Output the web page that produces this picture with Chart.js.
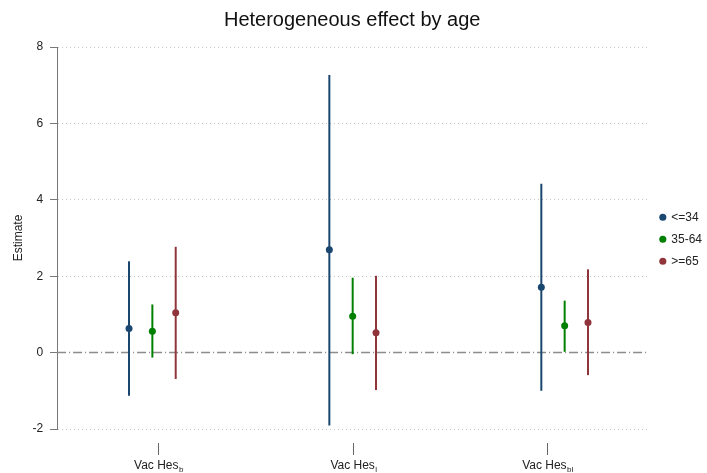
<!DOCTYPE html>
<html>
<head>
<meta charset="utf-8">
<script src="https://cdn.jsdelivr.net/npm/chart.js@4"></script>
<style>
  html, body { margin: 0; padding: 0; background: #fff; }
</style>
</head>
<body>
<canvas id="chart" width="707" height="473"></canvas>
<script>
// Estimates with confidence intervals, one series per age group
const groupLabel = 'Vac Hes';
const groupSubs = ['b', 'l', 'bl'];
const groupTicks = [1, 2, 3];

const seriesNames = ['<=34', '35-64', '>=65'];

const youngX = [0.85, 1.88, 2.97];
const youngEst = [0.63, 2.69, 1.71];
const youngLo = [-1.13, -1.91, -1.00];
const youngHi = [2.39, 7.27, 4.42];

const middleX = [0.97, 2.00, 3.09];
const middleEst = [0.56, 0.95, 0.70];
const middleLo = [-0.13, -0.04, 0.02];
const middleHi = [1.26, 1.96, 1.36];

const olderX = [1.09, 2.12, 3.21];
const olderEst = [1.04, 0.52, 0.79];
const olderLo = [-0.69, -0.98, -0.59];
const olderHi = [2.77, 2.01, 2.18];

const FONT = "'Liberation Sans', Arial, sans-serif";
const INK = '#222';

function makeSeries(label, xs, est, lo, hi, color) {
  return {
    label: label,
    data: xs.map((x, i) => ({ x: x, y: est[i] })),
    lo: lo,
    hi: hi,
    backgroundColor: color,
    borderColor: color,
    pointStyle: 'circle',
    pointRadius: 3.5,
    pointHoverRadius: 3.5,
    pointBorderWidth: 0,
    showLine: false
  };
}

// Title centred over the plot region, legend nudged toward the edge
const placeBlocks = {
  id: 'placeBlocks',
  afterLayout(chart) {
    const t = chart.titleBlock;
    if (t) {
      t.left = chart.chartArea.left;
      t.right = chart.chartArea.right;
    }
    const lg = chart.legend;
    if (lg) {
      lg.left += 3;
      lg.right += 3;
    }
  }
};

// Zero reference line and the vertical interval lines
const errorBars = {
  id: 'errorBars',
  beforeDatasetsDraw(chart) {
    const { ctx, chartArea, scales: { x, y } } = chart;
    ctx.save();
    const y0 = y.getPixelForValue(0);
    ctx.strokeStyle = '#8c8c8c';
    ctx.lineWidth = 1.5;
    ctx.setLineDash([9, 3, 1, 3]);
    ctx.beginPath();
    ctx.moveTo(chartArea.left, y0);
    ctx.lineTo(chartArea.right, y0);
    ctx.stroke();
    ctx.setLineDash([]);

    chart.data.datasets.forEach(ds => {
      ctx.strokeStyle = ds.borderColor;
      ctx.lineWidth = 2;
      ds.data.forEach((p, i) => {
        const px = x.getPixelForValue(p.x);
        ctx.beginPath();
        ctx.moveTo(px, y.getPixelForValue(ds.lo[i]));
        ctx.lineTo(px, y.getPixelForValue(ds.hi[i]));
        ctx.stroke();
      });
    });
    ctx.restore();
  }
};

// Category ticks below the plot, labels with subscripts
const groupAxis = {
  id: 'groupAxis',
  afterDraw(chart) {
    const { ctx, chartArea, scales: { x } } = chart;
    ctx.save();
    ctx.strokeStyle = '#666';
    ctx.lineWidth = 1;
    ctx.fillStyle = INK;
    ctx.textAlign = 'left';
    ctx.textBaseline = 'alphabetic';
    groupTicks.forEach((v, i) => {
      const px = Math.round(x.getPixelForValue(v)) + 0.5;
      ctx.beginPath();
      ctx.moveTo(px, chartArea.bottom + 14);
      ctx.lineTo(px, chartArea.bottom + 26);
      ctx.stroke();

      ctx.font = '12px ' + FONT;
      const w = ctx.measureText(groupLabel).width;
      ctx.font = '8px ' + FONT;
      const ws = ctx.measureText(groupSubs[i]).width;
      const left = px - (w + ws) / 2;
      const base = chartArea.bottom + 40;
      ctx.font = '12px ' + FONT;
      ctx.fillText(groupLabel, left, base);
      ctx.font = '8px ' + FONT;
      ctx.fillText(groupSubs[i], left + w + 0.5, base + 3);
    });
    ctx.restore();
  }
};

new Chart(document.getElementById('chart'), {
  type: 'scatter',
  data: {
    datasets: [
      makeSeries(seriesNames[0], youngX, youngEst, youngLo, youngHi, '#1a476f'),
      makeSeries(seriesNames[1], middleX, middleEst, middleLo, middleHi, '#008000'),
      makeSeries(seriesNames[2], olderX, olderEst, olderLo, olderHi, '#90353b')
    ]
  },
  options: {
    responsive: false,
    animation: false,
    events: [],
    layout: { padding: { left: 11, right: -2, top: 0, bottom: 44 } },
    scales: {
      x: {
        type: 'linear',
        display: false,
        min: 0.48,
        max: 3.515
      },
      y: {
        min: -2,
        max: 8,
        ticks: {
          stepSize: 2,
          color: INK,
          font: { family: FONT, size: 12 },
          padding: 7
        },
        grid: {
          color: c => (c.tick && c.tick.value === 0) ? 'rgba(0,0,0,0)' : '#c8c8c8',
          tickColor: '#777',
          tickLength: 7,
          lineWidth: 1
        },
        border: { display: true, color: '#777', width: 1, dash: [1, 3] },
        title: {
          display: true,
          text: 'Estimate',
          color: INK,
          font: { family: FONT, size: 12 },
          padding: { top: 0, bottom: 0 }
        }
      }
    },
    plugins: {
      title: {
        display: true,
        text: 'Heterogeneous effect by age',
        color: '#111',
        font: { family: FONT, size: 20, weight: 'normal' },
        padding: { top: 8, bottom: 15 }
      },
      legend: {
        position: 'right',
        // blank title block drops the entries to the middle of the plot
        title: {
          display: true,
          text: ' ',
          font: { family: FONT, size: 12 },
          padding: { top: 0, bottom: 35 }
        },
        labels: {
          usePointStyle: true,
          pointStyle: 'circle',
          boxWidth: 5,
          boxHeight: 5,
          color: INK,
          font: { family: FONT, size: 12 },
          padding: 10
        }
      },
      tooltip: { enabled: false }
    }
  },
  plugins: [placeBlocks, errorBars, groupAxis]
});
</script>
</body>
</html>
